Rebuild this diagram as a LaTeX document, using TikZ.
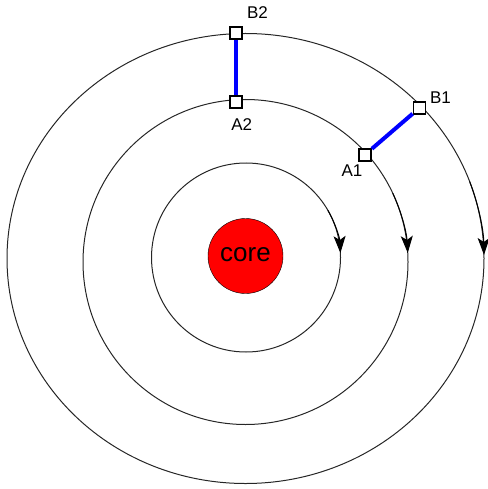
\documentclass[tikz,border=0pt]{standalone}
\usepackage{fontspec}
\setmainfont{Liberation Sans}
\usetikzlibrary{arrows.meta}

\begin{document}
\begin{tikzpicture}[x=1pt,y=-1pt,
  orbit/.style={draw=black!85,line width=1pt},
  flow/.style={draw=black,line width=1pt,-{Stealth[length=17pt,width=12pt,inset=4pt]}},
  site/.style={rectangle,draw=black,fill=white,line width=1.8pt,minimum size=12pt,inner sep=0pt},
  bond/.style={draw=blue,line width=4pt},
  tag/.style={font=\fontsize{17}{19}\selectfont,inner sep=0pt}]
\useasboundingbox (0,0) rectangle (487,489);
% orbit centres
\coordinate (c1) at (246,257.5);
\coordinate (c2) at (245.5,262);
\coordinate (c3) at (245.5,258.5);
\draw[orbit] (c1) circle[radius=94.5];
\draw[orbit] (c2) circle[radius=162.5];
\draw[orbit] (c3) ellipse[x radius=238.5,y radius=225];
% direction arrows
\draw[flow] (c1) ++(-30:94.5) arc[start angle=-30,end angle=-2.7,radius=94.5];
\draw[flow] (c2) ++(-25:162.5) arc[start angle=-25,end angle=-3.2,radius=162.5];
\draw[flow] (c3) ++(-20:238.5 and 225) arc[start angle=-20,end angle=-0.9,x radius=238.5,y radius=225];
\node[circle,draw=black,fill=red,minimum size=75pt,inner sep=0pt,font=\fontsize{26}{30}\selectfont] (core) at (245.5,256) {\raisebox{2pt}{core}};
% sites and bonds
\node[site] (A1) at (365,154.7) {};
\node[site] (B1) at (419.5,107.8) {};
\node[site] (A2) at (236,101.7) {};
\node[site] (B2) at (236,32.7) {};
\draw[bond] (A1) -- (B1);
\draw[bond] (A2) -- (B2);
\path (A1) ++(-13,15.5) node[tag] {A1};
\path (B1) ++(21,-10) node[tag] {B1};
\path (A2) ++(5.7,23.3) node[tag] {A2};
\path (B2) ++(21.5,-20) node[tag] {B2};
\end{tikzpicture}
\end{document}
